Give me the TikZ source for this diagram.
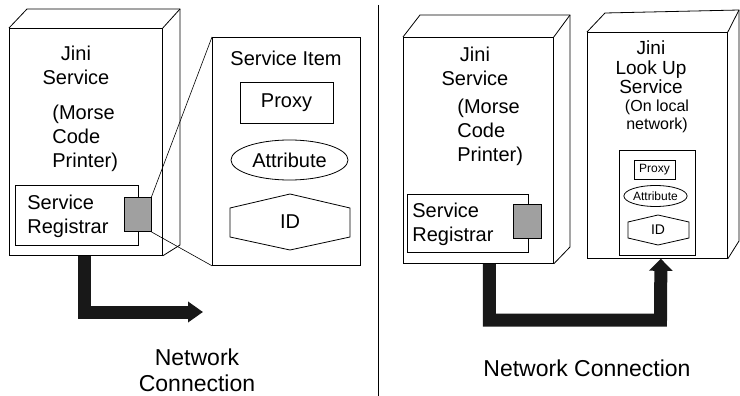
\documentclass[tikz,border=0pt]{standalone}
\usepackage{fontspec}
\setmainfont{Liberation Sans}
\usepackage{tikz}
\usetikzlibrary{arrows.meta,positioning,shapes.geometric}
\definecolor{RegGray}{RGB}{160,160,160}
\definecolor{PipeBlack}{RGB}{24,24,24}

\begin{document}
\begin{tikzpicture}[x=1pt,y=-1pt,line width=0.8pt,
    txt/.style={inner sep=0pt,font=\fontsize{20}{24}\selectfont},
    face/.style={draw,anchor=north west,inner sep=0pt},
    regbox/.style={draw,fill=RegGray,inner sep=0pt,minimum width=27,minimum height=34},
    pipe/.style={PipeBlack,line width=13pt,line join=miter}]
  \useasboundingbox (0,0) rectangle (740,396);

  % left half: service and its service item
  \node[face,minimum width=153,minimum height=227] (svcA) at (9,28) {};
  \draw (svcA.north west)--(27,9)--(180,9)--(180,245)--(svcA.south east);
  \draw (svcA.north east)--(180,9);
  \node[txt,align=center] (svcAname) at (76,65) {Jini\\Service};
  \node[txt,align=left,anchor=west] (svcAdev) at (52,138) {(Morse\\Code\\Printer)};
  \node[face,minimum width=123,minimum height=60] (regA) at (15,185) {};
  \node[txt,align=left,anchor=west] (regAtxt) at (27,216) {Service\\Registrar};
  \node[regbox] (portA) at (137.5,214.5) {};

  \node[face,minimum width=148,minimum height=228] (item) at (212,37) {};
  \node[txt] (itemtxt) at (286,58) {Service Item};
  \node[txt,draw,minimum width=93,minimum height=41] (proxyA) at (286.5,102.5) {Proxy};
  \node[txt,draw,ellipse,minimum width=117,minimum height=40] (attrA) at (289.5,160) {Attribute};
  \draw (230,208)--(290,194)--(350,208)--(350,237)--(290,250)--(230,237)--cycle;
  \node[txt] (idA) at (290,222) {ID};
  \draw[line width=0.6pt] (portA.north east)--(item.north west);
  \draw[line width=0.6pt] (portA.south east)--(item.south west);

  \coordinate (netA) at (203,312);
  \draw[pipe,-{Triangle[length=15pt,width=20pt]}] ([xshift=-1pt]svcA.south) |- (netA);
  \node[inner sep=0pt,align=center,font=\fontsize{23}{26}\selectfont] (netAtxt) at (197,370) {Network\\Connection};

  \draw (378,5)--(378,396);

  % right half: service registered with the look up service
  \node[face,minimum width=150,minimum height=226] (svcB) at (403,37) {};
  \draw (svcB.north west)--(420,15)--(570,15)--(570,247)--(svcB.south east);
  \draw (svcB.north east)--(570,15);
  \node[txt,align=center] (svcBname) at (475,66) {Jini\\Service};
  \node[txt,align=left,anchor=west] (svcBdev) at (457,132) {(Morse\\Code\\Printer)};
  \node[face,minimum width=121,minimum height=58] (regB) at (407,194) {};
  \node[txt,align=left,anchor=west] (regBtxt) at (412,224) {Service\\Registrar};
  \node[regbox,minimum width=28] (portB) at (527,221) {};

  \node[face,minimum width=140,minimum height=226] (look) at (587,32) {};
  \draw (look.north west)--(605,13)--(739,10)--(739,241)--(look.south east);
  \draw (look.north east)--(739,10);
  \node[txt,align=center,font=\fontsize{19}{19.5}\selectfont] (looktxt) at (651,67.5) {Jini\\Look Up\\Service};
  \node[inner sep=0pt,align=center,font=\fontsize{16}{18}\selectfont] (lookwhere) at (657,116) {(On local\\network)};
  \node[face,minimum width=76,minimum height=105] (store) at (619,150) {};
  \node[draw,inner sep=0pt,minimum width=41,minimum height=19,font=\fontsize{12}{14}\selectfont] (proxyB) at (654.5,170) {Proxy};
  \node[draw,ellipse,inner sep=0pt,minimum width=63,minimum height=21,font=\fontsize{12}{14}\selectfont] (attrB) at (655.5,196) {Attribute};
  \draw (628,222)--(658,215)--(689,222)--(689,238)--(658,245)--(628,238)--cycle;
  \node[inner sep=0pt,font=\fontsize{14}{16}\selectfont] (idB) at (658,230) {ID};

  \draw[pipe,-{Triangle[length=12pt,width=23pt]}] ([xshift=11pt]svcB.south) |- (660.5,320) -- ([xshift=3.5pt]look.south);
  \node[inner sep=0pt,font=\fontsize{23}{26}\selectfont] (netBtxt) at (587,368) {Network Connection};
\end{tikzpicture}
\end{document}
